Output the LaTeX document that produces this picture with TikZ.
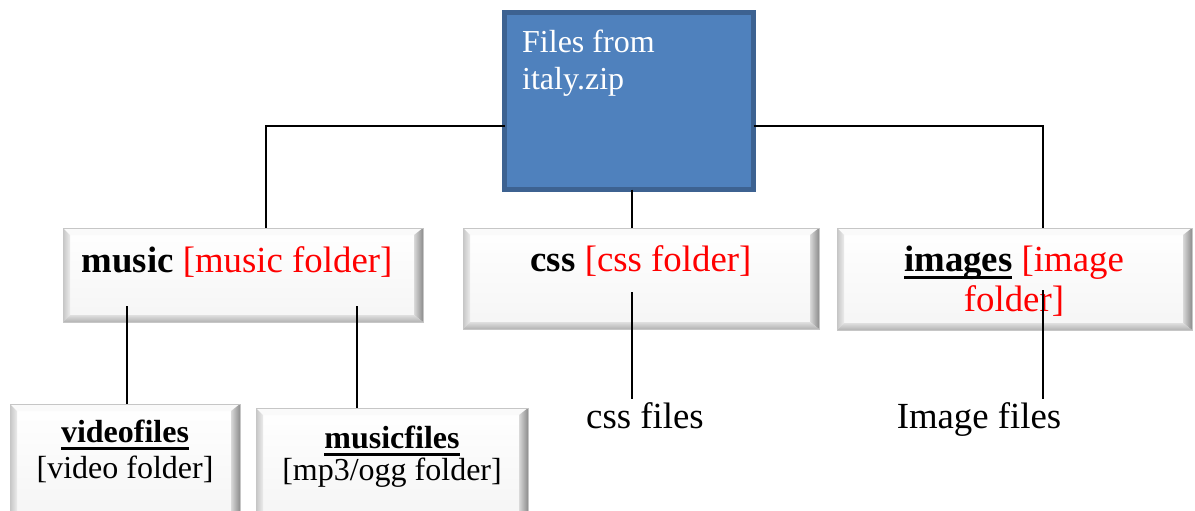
\documentclass[tikz,border=0pt]{standalone}
\usepackage{fontspec}
\setmainfont{Liberation Serif}
\usetikzlibrary{calc}
\definecolor{topfill}{HTML}{4F81BD}
\definecolor{topline}{HTML}{3D6291}
\newcommand\thickul[1]{\setbox0=\hbox{#1}\rlap{\rule[-8pt]{\wd0}{3pt}}\box0\relax}
\newcommand\bevel[1]{%
  \fill[gray!4] (#1.north west) -- (#1.north east) -- ($(#1.north east)+(-9,7)$) -- ($(#1.north west)+(7,7)$) -- cycle;
  \shade[left color=gray!45,right color=gray!15] (#1.north west) -- ($(#1.north west)+(7,7)$) -- ($(#1.south west)+(7,-7)$) -- (#1.south west) -- cycle;
  \shade[left color=gray!30,right color=gray!90] (#1.north east) -- (#1.south east) -- ($(#1.south east)+(-9,-7)$) -- ($(#1.north east)+(-9,7)$) -- cycle;
  \shade[top color=gray!25,bottom color=gray!60] (#1.south west) -- (#1.south east) -- ($(#1.south east)+(-9,-7)$) -- ($(#1.south west)+(7,-7)$) -- cycle;
  \draw[gray!45,line width=0.8pt] (#1.north west) rectangle (#1.south east);
}
\tikzset{
  bevbox/.style={anchor=north west,inner sep=0pt,outer sep=0pt,top color=white,bottom color=gray!8,draw=none},
  topbox/.style={anchor=north west,inner sep=0pt,outer sep=0pt,fill=topfill,draw=topline,line width=5pt},
  big/.style={font=\fontsize{36.8}{40}\selectfont,inner sep=0pt},
  small/.style={font=\fontsize{32}{33}\selectfont,inner sep=0pt},
  conn/.style={draw=black,line width=1.8pt}
}
\begin{document}
\begin{tikzpicture}[x=1pt,y=-1pt]
\useasboundingbox (0,0) rectangle (1195,511);
% top box
\node[topbox,minimum width=249pt,minimum height=177pt] (top) at (504.5,12.5) {};
\node[anchor=base west,align=left,text=white,font=\fontsize{32}{37}\selectfont,inner sep=0pt] (toptext) at (522,90) {Files from\\italy.zip};
% level-1 boxes
\node[bevbox,minimum width=360pt,minimum height=94pt] (music) at (63,228) {};
\node[bevbox,minimum width=356pt,minimum height=101pt] (css) at (463,228) {};
\node[bevbox,minimum width=355pt,minimum height=102pt] (images) at (837,228) {};
% level-2 boxes
\node[bevbox,minimum width=230pt,minimum height=115pt] (video) at (10,404) {};
\node[bevbox,minimum width=272pt,minimum height=110pt] (mfiles) at (256,408) {};
\bevel{music}
\bevel{css}
\bevel{images}
\bevel{video}
\bevel{mfiles}
% texts
\node[big,anchor=base] (musict) at (237,272) {\textbf{music} \textcolor{red}{[music folder]}};
\node[big,anchor=base] (csst) at (641,271) {\textbf{css} \textcolor{red}{[css folder]}};
\node[big,anchor=base,align=center] (imagest) at (1014,311) {\thickul{\textbf{images}} \textcolor{red}{[image}\\\textcolor{red}{folder]}};
\node[small,anchor=base,align=center] (videot) at (125,478) {\thickul{\textbf{videofiles}}\\[3pt][video folder]};
\node[small,anchor=base,align=center] (mfilest) at (392,480) {\thickul{\textbf{musicfiles}}\\[-1pt][mp3/ogg folder]};
\node[big,anchor=base,inner sep=3pt] (cssf) at (645,428) {css files};
\node[big,anchor=base,inner sep=3pt] (imgf) at (979,428) {Image files};
% connectors
\coordinate (jl) at (266,126);
\coordinate (jr) at (1043,126);
\coordinate (jc) at (632,0);
\draw[conn] (top.west |- jl) -- (jl) -- (jl |- music.north);
\draw[conn] (top.east |- jr) -- (jr) -- (jr |- images.north);
\draw[conn] (top.south -| jc) -- (css.north -| jc);
\coordinate (m1) at (127,306);
\coordinate (m2) at (357,306);
\coordinate (c1) at (632,292);
\coordinate (i1) at (1043,290);
\draw[conn] (m1) -- (m1 |- video.north);
\draw[conn] (m2) -- (m2 |- mfiles.north);
\draw[conn] (c1) -- (c1 |- cssf.north);
\draw[conn] (i1) -- (i1 |- imgf.north);
\end{tikzpicture}
\end{document}
